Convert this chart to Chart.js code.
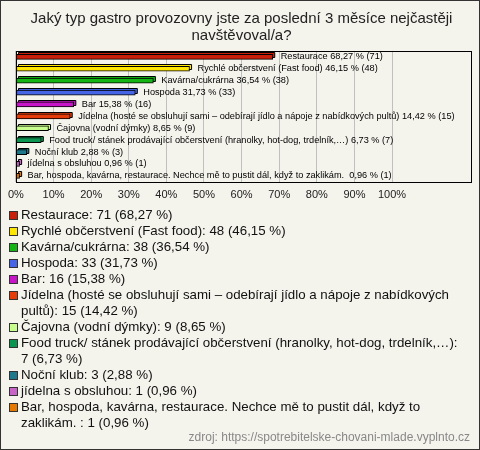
<!DOCTYPE html>
<html>
<head>
<meta charset="utf-8">
<script src="https://cdn.jsdelivr.net/npm/chart.js@4/dist/chart.umd.min.js"></script>
<style>
  html, body { margin: 0; padding: 0; }
  body { width: 480px; height: 450px; overflow: hidden; }
  #frame {
    position: relative; width: 478px; height: 448px;
    border: 1px solid #333; background: #f4f3ec;
    font-family: "Liberation Sans", Arial, sans-serif;
  }
  #chartBox { position: absolute; left: 0; top: 0; width: 478px; height: 208px; }
  #legend { position: absolute; left: 7px; top: 206px; width: 457px; list-style: none; margin: 0; padding: 0; }
  #legend li { display: flex; align-items: flex-start; font-size: 13.3px; line-height: 16px; color: #111; }
  #legend .mark { flex: none; width: 7px; height: 7px; border: 1px solid #333; margin: 4px 3px 0 1px; }
  #source { position: absolute; right: 9px; top: 429px; font-size: 12px; color: #888; }
</style>
</head>
<body>
<div id="frame">
  <div id="chartBox"><canvas id="chart"></canvas></div>
  <ul id="legend"></ul>
  <div id="source">zdroj: https://spotrebitelske-chovani-mlade.vyplnto.cz</div>
</div>
<script>
// data
const categories = [
    'Restaurace',
    'Rychlé občerstvení (Fast food)',
    'Kavárna/cukrárna',
    'Hospoda',
    'Bar',
    'Jídelna (hosté se obsluhují sami – odebírají jídlo a nápoje z nabídkových pultů)',
    'Čajovna (vodní dýmky)',
    'Food truck/ stánek prodávající občerstvení (hranolky, hot-dog, trdelník,…)',
    'Noční klub',
    'jídelna s obsluhou',
    'Bar, hospoda, kavárna, restaurace. Nechce mě to pustit dál, když to zaklikám. '
];
const counts = [71, 48, 38, 33, 16, 15, 9, 7, 3, 1, 1];
const percents = [68.27, 46.15, 36.54, 31.73, 15.38, 14.42, 8.65, 6.73, 2.88, 0.96, 0.96];
const colors = ['#c81e0a', '#ffe600', '#14b414', '#4664e6', '#c814c8', '#e63c0a',
                '#c8ff8c', '#0a9650', '#1e788c', '#c864c8', '#e67800'];
const tickValues = [0, 10, 20, 30, 40, 50, 60, 70, 80, 90, 100];

const fmt = v => v.toFixed(2).replace('.', ',');

// 3D look: draw shifted copy behind each bar
const bar3d = {
    id: 'bar3d',
    beforeDatasetsDraw(chart) {
        const ctx = chart.ctx;
        chart.getDatasetMeta(0).data.forEach((bar, i) => {
            const h = bar.height, x0 = bar.base, x1 = bar.x;
            const top = bar.y - h / 2;
            ctx.save();
            ctx.fillStyle = colors[i];
            ctx.strokeStyle = '#000';
            ctx.lineWidth = 1;
            ctx.beginPath();
            ctx.rect(Math.round(x0 + 2) + 0.5, Math.round(top - 2) + 0.5, Math.max(x1 - x0, 2), h);
            ctx.fill();
            ctx.stroke();
            ctx.restore();
        });
    },
    afterDatasetsDraw(chart) {
        const ctx = chart.ctx;
        const a = chart.chartArea;
        ctx.save();
        ctx.font = '9.2px "Liberation Sans", Arial, sans-serif';
        ctx.fillStyle = '#000';
        ctx.textBaseline = 'middle';
        chart.getDatasetMeta(0).data.forEach((bar, i) => {
            const txt = categories[i] + ' ' + fmt(percents[i]) + ' % (' + counts[i] + ')';
            ctx.fillText(txt, bar.x + 8, bar.y);
        });
        ctx.strokeStyle = '#000';
        ctx.lineWidth = 1;
        ctx.strokeRect(Math.round(a.left) + 0.5, Math.round(a.top) + 0.5,
                       Math.round(a.right - a.left), Math.round(a.bottom - a.top));
        ctx.restore();
    }
};

new Chart(document.getElementById('chart'), {
    type: 'bar',
    data: {
        labels: categories,
        datasets: [{
            data: percents,
            backgroundColor: colors,
            borderColor: '#000',
            borderWidth: 1,
            borderSkipped: false,
            barThickness: 5
        }]
    },
    options: {
        indexAxis: 'y',
        responsive: true,
        maintainAspectRatio: false,
        animation: false,
        layout: { padding: { left: 11, right: 8, top: 0, bottom: 0 } },
        plugins: {
            legend: { display: false },
            tooltip: { enabled: false },
            title: {
                display: true,
                text: ['Jaký typ gastro provozovny jste za poslední 3 měsíce nejčastěji', 'navštěvoval/a?'],
                color: '#222',
                font: { family: '"Liberation Sans", Arial, sans-serif', size: 15, weight: 'normal', lineHeight: 1.13 },
                padding: { top: 9, bottom: 7 }
            }
        },
        scales: {
            x: {
                min: 0,
                max: 121,
                afterBuildTicks(scale) {
                    scale.ticks = tickValues.map(v => ({ value: v }));
                },
                grid: { color: '#c0c0c0', drawTicks: false },
                border: { display: false },
                ticks: {
                    color: '#222',
                    padding: 7,
                    font: { family: '"Liberation Sans", Arial, sans-serif', size: 11 },
                    callback: v => v + '%'
                }
            },
            y: {
                display: false,
                offset: true
            }
        }
    },
    plugins: [bar3d]
});

// legend
const legend = document.getElementById('legend');
categories.forEach((name, i) => {
    const li = document.createElement('li');
    li.innerHTML = '<span class="mark" style="background:' + colors[i] + '"></span><span></span>';
    li.lastChild.textContent = name + ': ' + counts[i] + ' (' + fmt(percents[i]) + ' %)';
    legend.appendChild(li);
});
</script>
</body>
</html>
